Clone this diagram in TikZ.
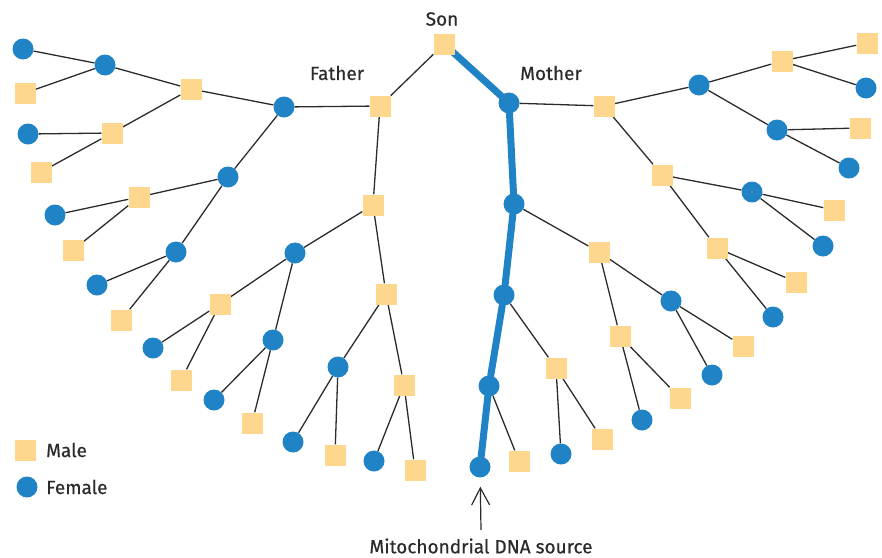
\documentclass[tikz,border=0pt]{standalone}
\usepackage{fontspec}
\setmainfont{Fira Sans}
\newfontfamily\lblfont{Fira Sans}[FakeBold=0.5]
\usetikzlibrary{arrows.meta,backgrounds}
\definecolor{femcol}{HTML}{1F83C6}
\definecolor{malcol}{HTML}{FDD78E}
\definecolor{ink}{HTML}{2B2B2B}
\begin{document}
\begin{tikzpicture}[x=1pt,y=-1pt,
  malenode/.style={rectangle,fill=malcol,minimum size=21pt,inner sep=0pt},
  femnode/.style={circle,fill=femcol,minimum size=21pt,inner sep=0pt},
  lbl/.style={text=ink,font=\lblfont\fontsize{19}{21}\selectfont,inner sep=0pt},
  link/.style={draw=ink,line width=1.3pt},
  mito/.style={draw=femcol,line width=7pt,line cap=round}]
\useasboundingbox (0,0) rectangle (882,557);
% males
\node[malenode] (son) at (444,44) {};
\node[malenode] (fa) at (380,106) {};
\node[malenode] (a1) at (191,89) {};
\node[malenode] (a2) at (25,93) {};
\node[malenode] (a3) at (112,133) {};
\node[malenode] (a4) at (41,172) {};
\node[malenode] (a5) at (139,197) {};
\node[malenode] (a6) at (73,250) {};
\node[malenode] (a7) at (121,320) {};
\node[malenode] (b1) at (373,205) {};
\node[malenode] (b2) at (220,304) {};
\node[malenode] (b3) at (181,380) {};
\node[malenode] (b4) at (252,423) {};
\node[malenode] (b5) at (386,294) {};
\node[malenode] (b6) at (335,455) {};
\node[malenode] (b7) at (404,385) {};
\node[malenode] (b8) at (415,470) {};
\node[malenode] (c1) at (604,106) {};
\node[malenode] (c2) at (782,61) {};
\node[malenode] (c3) at (867,43) {};
\node[malenode] (c4) at (860,128) {};
\node[malenode] (c5) at (662,175) {};
\node[malenode] (c6) at (834,210) {};
\node[malenode] (c7) at (717,248) {};
\node[malenode] (c8) at (796,282) {};
\node[malenode] (d1) at (599,252) {};
\node[malenode] (d2) at (743,346) {};
\node[malenode] (d3) at (620,336) {};
\node[malenode] (d4) at (680,398) {};
\node[malenode] (d5) at (556,368) {};
\node[malenode] (d6) at (602,439) {};
\node[malenode] (d7) at (519,461) {};
% females
\node[femnode] (mo) at (509,103) {};
\node[femnode] (fm) at (284,107) {};
\node[femnode] (e1) at (105,65) {};
\node[femnode] (e2) at (23,49) {};
\node[femnode] (e3) at (28,134) {};
\node[femnode] (e4) at (228,177) {};
\node[femnode] (e5) at (55,215) {};
\node[femnode] (e6) at (176,252) {};
\node[femnode] (e7) at (97,285) {};
\node[femnode] (f1) at (295,253) {};
\node[femnode] (f2) at (153,348) {};
\node[femnode] (f3) at (273,340) {};
\node[femnode] (f4) at (214,400) {};
\node[femnode] (f5) at (338,367) {};
\node[femnode] (f6) at (293,442) {};
\node[femnode] (f7) at (374,461) {};
\node[femnode] (g1) at (699,85) {};
\node[femnode] (g2) at (866,88) {};
\node[femnode] (g3) at (777,130) {};
\node[femnode] (g4) at (849,168) {};
\node[femnode] (g5) at (752,192) {};
\node[femnode] (g6) at (823,246) {};
\node[femnode] (g7) at (773,317) {};
\node[femnode] (h1) at (514,204) {};
\node[femnode] (h2) at (671,301) {};
\node[femnode] (h3) at (712,375) {};
\node[femnode] (h4) at (642,420) {};
\node[femnode] (h5) at (504,295) {};
\node[femnode] (h6) at (561,454) {};
\node[femnode] (h7) at (489,386) {};
\node[femnode] (h8) at (480,467) {};
% labels
\node[lbl] (tson) at (442,19) {Son};
\node[lbl] (tfa) at (337,73) {Father};
\node[lbl] (tmo) at (551,73) {Mother};
\node[lbl] (tmito) at (481,546) {Mitochondrial DNA source};
% legend
\node[malenode] (lm) at (25,450) {};
\node[femnode] (lf) at (27,487) {};
\node[lbl,anchor=west] (tlm) at (46,450) {Male};
\node[lbl,anchor=west] (tlf) at (46,487) {Female};
% arrow
\coordinate (abase) at (481,530);
\draw[draw=ink,line width=1.2pt,shorten >=9pt,-{Straight Barb[length=17pt,width=18pt]}] (abase) -- (h8);
\begin{scope}[on background layer]
\path[link] (son) -- (fa);
\path[link] (fa) -- (fm) (fa) -- (b1);
\path[link] (fm) -- (a1) (fm) -- (e4);
\path[link] (a1) -- (e1) (a1) -- (a3);
\path[link] (e1) -- (e2) (e1) -- (a2);
\path[link] (a3) -- (e3) (a3) -- (a4);
\path[link] (e4) -- (a5) (e4) -- (e6);
\path[link] (a5) -- (e5) (a5) -- (a6);
\path[link] (e6) -- (e7) (e6) -- (a7);
\path[link] (b1) -- (f1) (b1) -- (b5);
\path[link] (f1) -- (b2) (f1) -- (f3);
\path[link] (b2) -- (f2) (b2) -- (b3);
\path[link] (f3) -- (f4) (f3) -- (b4);
\path[link] (b5) -- (f5) (b5) -- (b7);
\path[link] (f5) -- (f6) (f5) -- (b6);
\path[link] (b7) -- (f7) (b7) -- (b8);
\path[link] (mo) -- (c1);
\path[link] (c1) -- (g1) (c1) -- (c5);
\path[link] (g1) -- (c2) (g1) -- (g3);
\path[link] (c2) -- (c3) (c2) -- (g2);
\path[link] (g3) -- (c4) (g3) -- (g4);
\path[link] (c5) -- (g5) (c5) -- (c7);
\path[link] (g5) -- (c6) (g5) -- (g6);
\path[link] (c7) -- (c8) (c7) -- (g7);
\path[link] (h1) -- (d1);
\path[link] (d1) -- (h2) (d1) -- (d3);
\path[link] (h2) -- (d2) (h2) -- (h3);
\path[link] (d3) -- (d4) (d3) -- (h4);
\path[link] (h5) -- (d5);
\path[link] (d5) -- (h6) (d5) -- (d6);
\path[link] (h7) -- (d7);
\path[mito] (son.center) -- (mo.center);
\path[mito] (mo) -- (h1);
\path[mito] (h1) -- (h5);
\path[mito] (h5) -- (h7);
\path[mito] (h7) -- (h8);
\end{scope}
\end{tikzpicture}
\end{document}
